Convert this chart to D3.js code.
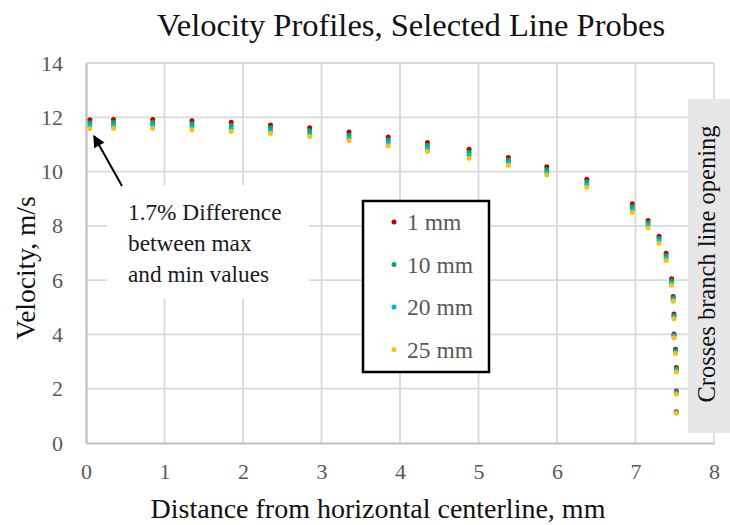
<!DOCTYPE html>
<html>
<head>
<meta charset="utf-8">
<script src="https://cdn.jsdelivr.net/npm/d3@7"></script>
<style>
  html, body { margin: 0; padding: 0; background: #fff; }
  svg { display: block; }
  text { font-family: "Liberation Serif", "Times New Roman", serif; }
</style>
</head>
<body>
<svg id="chart" width="730" height="525"></svg>
<script>
// ---- data ----
const xDist = [0.05, 0.35, 0.85, 1.35, 1.85, 2.35, 2.85, 3.35, 3.85, 4.35, 4.88, 5.38, 5.87, 6.38, 6.96, 7.16, 7.30, 7.39, 7.46, 7.48, 7.49, 7.49, 7.51, 7.52, 7.52, 7.52];
const v1mm  = [11.91, 11.92, 11.92, 11.87, 11.82, 11.72, 11.61, 11.46, 11.27, 11.07, 10.82, 10.52, 10.18, 9.72, 8.81, 8.20, 7.62, 6.99, 6.05, 5.40, 4.75, 4.02, 3.45, 2.78, 1.92, 1.15];
const v10mm = [11.80, 11.81, 11.81, 11.76, 11.70, 11.61, 11.50, 11.35, 11.16, 10.96, 10.71, 10.42, 10.07, 9.62, 8.70, 8.11, 7.53, 6.90, 5.97, 5.34, 4.69, 3.97, 3.40, 2.73, 1.88, 1.13];
const v20mm = [11.69, 11.70, 11.70, 11.65, 11.59, 11.50, 11.39, 11.24, 11.05, 10.85, 10.60, 10.32, 9.97, 9.52, 8.60, 8.02, 7.45, 6.81, 5.89, 5.28, 4.64, 3.93, 3.35, 2.67, 1.84, 1.12];
const v25mm = [11.59, 11.60, 11.60, 11.54, 11.48, 11.40, 11.29, 11.14, 10.95, 10.74, 10.49, 10.23, 9.87, 9.42, 8.50, 7.93, 7.36, 6.72, 5.81, 5.22, 4.58, 3.88, 3.30, 2.62, 1.80, 1.10];
const seriesNames = ["1 mm", "10 mm", "20 mm", "25 mm"];
const seriesColors = ["#c00000", "#00b050", "#00b0f0", "#ffc000"];
const xTicks = [0, 1, 2, 3, 4, 5, 6, 7, 8];
const yTicks = [0, 2, 4, 6, 8, 10, 12, 14];
const titleText = "Velocity Profiles, Selected Line Probes";
const xTitle = "Distance from horizontal centerline, mm";
const yTitle = "Velocity, m/s";
const noteLines = ["1.7% Difference", "between max", "and min values"];
const sideNote = "Crosses branch line opening";

const seriesValues = [v1mm, v10mm, v20mm, v25mm];

// ---- layout ----
const svg = d3.select("#chart");
const L = 86, R = 714, T = 63, B = 443;
const x = d3.scaleLinear().domain([0, 8]).range([L, R]);
const y = d3.scaleLinear().domain([0, 14]).range([B, T]);

// gridlines
const grid = svg.append("g");
grid.selectAll("line.h").data(yTicks.filter(d => d > 0)).enter().append("line")
  .attr("x1", L).attr("x2", R).attr("y1", d => y(d)).attr("y2", d => y(d))
  .attr("stroke", "#d9d9d9").attr("stroke-width", 1.8);
grid.selectAll("line.v").data(xTicks.filter(d => d > 0)).enter().append("line")
  .attr("x1", d => x(d)).attr("x2", d => x(d)).attr("y1", T).attr("y2", B)
  .attr("stroke", "#d9d9d9").attr("stroke-width", 1.8);

// axes
const xAxis = d3.axisBottom(x).tickValues(xTicks).tickSize(0).tickPadding(20).tickFormat(d3.format("d"));
const yAxis = d3.axisLeft(y).tickValues(yTicks).tickSize(0).tickPadding(23).tickFormat(d3.format("d"));
const gx = svg.append("g").attr("transform", `translate(0,${B})`).call(xAxis);
const gy = svg.append("g").attr("transform", `translate(${L},0)`).call(yAxis);
[gx, gy].forEach(g => {
  g.select(".domain").attr("stroke", "#bfbfbf").attr("stroke-width", 2.2);
  g.selectAll("text").attr("fill", "#595959").attr("font-size", 22);
});

// annotation white box
svg.append("rect").attr("x", 107).attr("y", 185).attr("width", 202).attr("height", 114).attr("fill", "#fff");

// side grey box
svg.append("rect").attr("x", 688).attr("y", 99).attr("width", 42).attr("height", 334).attr("fill", "#e7e7e7");
svg.append("text").attr("transform", "translate(715,264) rotate(-90)")
  .attr("text-anchor", "middle").attr("font-size", 24.5).attr("fill", "#111").text(sideNote);

// points
seriesValues.forEach((vals, si) => {
  svg.append("g").selectAll("circle").data(vals).enter().append("circle")
    .attr("cx", (d, i) => x(xDist[i])).attr("cy", d => y(d)).attr("r", 2.5)
    .attr("fill", seriesColors[si]);
});

// arrow
svg.append("defs").append("marker").attr("id", "ah")
  .attr("viewBox", "0 0 10 10").attr("refX", 9).attr("refY", 5)
  .attr("markerWidth", 7).attr("markerHeight", 6).attr("orient", "auto")
  .attr("markerUnits", "strokeWidth")
  .append("path").attr("d", "M0,0 L10,5 L0,10 Z").attr("fill", "#000");
svg.append("line").attr("x1", 122).attr("y1", 186).attr("x2", 94).attr("y2", 136)
  .attr("stroke", "#000").attr("stroke-width", 2).attr("marker-end", "url(#ah)");

// annotation text
svg.append("g").selectAll("text").data(noteLines).enter().append("text")
  .attr("x", 128).attr("y", (d, i) => 220 + i * 31)
  .attr("font-size", 23.3).attr("fill", "#1a1a1a").text(d => d);

// legend
const lg = svg.append("g");
lg.append("rect").attr("x", 363).attr("y", 201).attr("width", 126).attr("height", 171)
  .attr("fill", "#fff").attr("stroke", "#000").attr("stroke-width", 2.5);
seriesNames.forEach((n, i) => {
  const cy = 222 + i * 42.5;
  lg.append("circle").attr("cx", 394).attr("cy", cy).attr("r", 2.5).attr("fill", seriesColors[i]);
  lg.append("text").attr("x", 407).attr("y", cy).attr("dy", "0.35em")
    .attr("font-size", 23.5).attr("fill", "#595959").text(n);
});

// titles
svg.append("text").attr("x", 411).attr("y", 36).attr("text-anchor", "middle")
  .attr("font-size", 32.5).attr("fill", "#111").text(titleText);
svg.append("text").attr("x", 378).attr("y", 518).attr("text-anchor", "middle")
  .attr("font-size", 28).attr("fill", "#111").text(xTitle);
svg.append("text").attr("transform", "translate(35,268) rotate(-90)").attr("text-anchor", "middle")
  .attr("font-size", 27.5).attr("fill", "#111").text(yTitle);
</script>
</body>
</html>
